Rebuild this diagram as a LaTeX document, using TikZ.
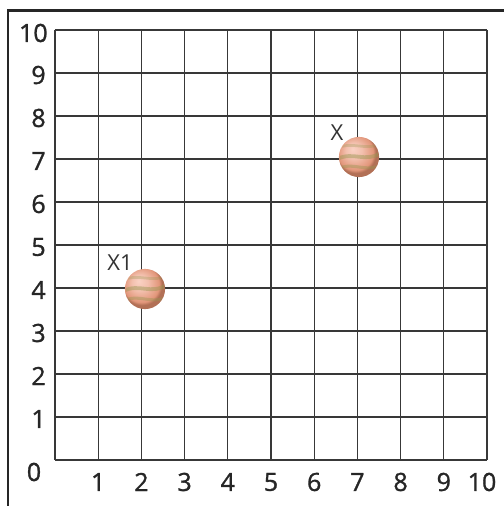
\documentclass[tikz,border=0pt]{standalone}
\usepackage{fontspec}
\setmainfont{Open Sans}
\newfontfamily\numfont{Open Sans}[FakeBold=1.2]
\usepackage{tikz}
\usetikzlibrary{positioning,shadings,calc}
\definecolor{marbleedge}{RGB}{178,112,86}
\definecolor{marblemid}{RGB}{226,150,122}
\definecolor{marblelight}{RGB}{250,210,196}
\definecolor{marblestripe}{RGB}{150,150,80}
\pgfdeclareradialshading{marbleshade}{\pgfpoint{-8bp}{10bp}}{%
  color(0bp)=(marblelight); color(10bp)=(marblelight!70!marblemid);
  color(22bp)=(marblemid); color(25bp)=(marbleedge); color(50bp)=(marbleedge)}

\begin{document}
\begin{tikzpicture}[x=0.023148cm,y=0.023148cm,
  gridline/.style={draw=black!78,line width=0.85pt},
  axnum/.style={font=\numfont\fontsize{16.5}{18}\selectfont,text=black!85,inner sep=0pt},
  ptlabel/.style={font=\fontsize{14.5}{16}\selectfont,text=black!80,inner sep=0pt},
  marble/.style={circle,inner sep=0pt,minimum size=0.93cm,shading=marbleshade}]
  % frame and bounding box
  \useasboundingbox (-55,-46) rectangle (449,460);
  \draw[line width=1.5pt,black!85] (-47,-46) -- (-47,449.5) -- (449,449.5);
  % grid
  \foreach \i in {0,...,10} {
    \draw[gridline] (43.2*\i,0) -- (43.2*\i,430);
    \draw[gridline] (0,43*\i) -- (432,43*\i);
  }
  % numbers on the axes
  \node[axnum] (o) at (-21,-12) {0};
  \foreach \i in {1,...,9} {
    \node[axnum] (xn\i) at (43.2*\i,-22) {\i};
    \node[axnum,anchor=east] (yn\i) at (-9,43*\i-2) {\i};
  }
  \node[axnum] (xn10) at (427,-22) {10};
  \node[axnum,anchor=east] (yn10) at (-7,427) {10};
  % the two marbles
  \node[marble] (x1) at (90,171) {};
  \node[marble] (x) at (304,303) {};
  \foreach \m in {x1,x} {
    \begin{scope}
      \clip (\m.center) circle (0.45cm);
      \draw[marblestripe,opacity=0.45,line width=2.5pt]
        ($(\m.center)+(-22,-2)$) .. controls ($(\m.center)+(-5,6)$) and ($(\m.center)+(5,-6)$) .. ($(\m.center)+(22,4)$);
      \draw[marblestripe,opacity=0.4,line width=2pt]
        ($(\m.center)+(-22,-12)$) .. controls ($(\m.center)+(-5,-4)$) and ($(\m.center)+(5,-16)$) .. ($(\m.center)+(22,-8)$);
      \draw[marblestripe,opacity=0.3,line width=1.8pt]
        ($(\m.center)+(-22,9)$) .. controls ($(\m.center)+(-5,16)$) and ($(\m.center)+(5,6)$) .. ($(\m.center)+(22,13)$);
    \end{scope}
  }
  % labels
  \node[ptlabel] (x1lab) at (65,197) {X1};
  \node[ptlabel] (xlab) at (282,327) {X};
\end{tikzpicture}
\end{document}
